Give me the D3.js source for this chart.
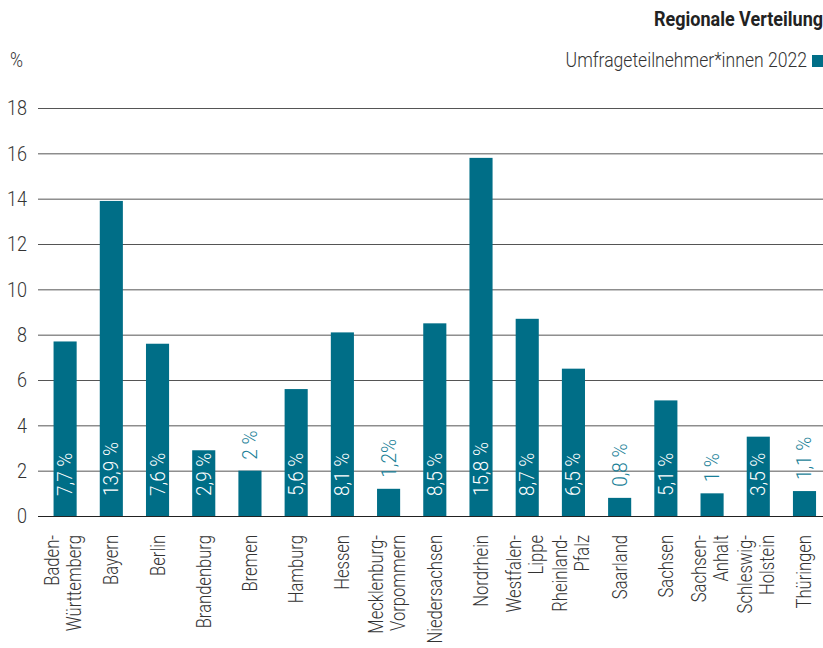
<!DOCTYPE html>
<html>
<head>
<meta charset="utf-8">
<script src="https://cdn.jsdelivr.net/npm/d3@7"></script>
<style>
  html, body { margin: 0; padding: 0; background: #fff; }
  svg { display: block; }
  text { font-family: Roboto, "Open Sans", sans-serif; }
</style>
</head>
<body>
<svg id="chart" width="823" height="648"></svg>
<script>
// Regional distribution of survey participants 2022 (percent)
const categories = [
  ["Baden-", "Württemberg"], ["Bayern"], ["Berlin"], ["Brandenburg"], ["Bremen"],
  ["Hamburg"], ["Hessen"], ["Mecklenburg-", "Vorpommern"], ["Niedersachsen"],
  ["Nordrhein"], ["Westfalen-", "Lippe"], ["Rheinland-", "Pfalz"], ["Saarland"],
  ["Sachsen"], ["Sachsen-", "Anhalt"], ["Schleswig-", "Holstein"], ["Thüringen"]
];
const values = [7.7, 13.9, 7.6, 2.9, 2, 5.6, 8.1, 1.2, 8.5, 15.8, 8.7, 6.5, 0.8, 5.1, 1, 3.5, 1.1];
const valueLabels = ["7,7 %", "13,9 %", "7,6 %", "2,9 %", "2 %", "5,6 %", "8,1 %", "1,2%", "8,5 %",
  "15,8 %", "8,7 %", "6,5 %", "0,8 %", "5,1 %", "1 %", "3,5 %", "1,1 %"];
const yTicks = [0, 2, 4, 6, 8, 10, 12, 14, 16, 18];
const title = "Regionale Verteilung";
const seriesName = "Umfrageteilnehmer*innen 2022";
const unit = "%";

const teal = "#006e87";
const textColor = "#333";
const svg = d3.select("#chart");
const W = 823;

const keys = categories.map(c => c.join(""));
const x = d3.scaleBand().domain(keys).range([42, 827.6]).paddingInner(0.5).paddingOuter(0.25);
const y = d3.scaleLinear().domain([0, 18]).range([516, 108]);

// narrow setting of the typeface: squeeze glyphs along the reading direction
const narrow = (sx) => `scale(${sx},1)`;

// title and legend
svg.append("text").attr("transform", `translate(823,26) ${narrow(0.9)}`).attr("text-anchor", "end")
  .attr("font-size", 20).attr("font-weight", 700).attr("fill", "#222").text(title);
svg.append("text").attr("transform", `translate(807,67) ${narrow(0.88)}`).attr("text-anchor", "end")
  .attr("font-size", 20).attr("font-weight", 300).attr("fill", textColor).text(seriesName);
svg.append("rect").attr("x", 812).attr("y", 55).attr("width", 12).attr("height", 12).attr("fill", teal);
svg.append("text").attr("transform", `translate(10,67) ${narrow(0.88)}`)
  .attr("font-size", 20).attr("font-weight", 300).attr("fill", textColor).text(unit);

// y axis: gridlines and tick labels
const yAxis = d3.axisLeft(y).tickValues(yTicks).tickSize(-(W - 38)).tickPadding(0).tickFormat(d3.format("d"));
const gy = svg.append("g").attr("transform", "translate(38,0)").call(yAxis);
gy.select(".domain").remove();
gy.selectAll(".tick line").attr("stroke", d => d === 0 ? "#222" : "#555").attr("stroke-width", 1);
gy.selectAll(".tick text")
  .attr("x", null)
  .attr("transform", `translate(-11,0) ${narrow(0.86)}`)
  .attr("font-size", 21).attr("font-weight", 300).attr("fill", textColor)
  .attr("font-family", "Roboto, sans-serif");

// bars
const data = keys.map((k, i) => ({ key: k, lines: categories[i], value: values[i], label: valueLabels[i] }));
svg.append("g").selectAll("rect").data(data).join("rect")
  .attr("x", d => x(d.key)).attr("y", d => y(d.value))
  .attr("width", x.bandwidth()).attr("height", d => y(0) - y(d.value))
  .attr("fill", teal);

// zero line drawn over the bars
svg.append("line").attr("x1", 38).attr("x2", W).attr("y1", y(0) + 0.5).attr("y2", y(0) + 0.5)
  .attr("stroke", "#222").attr("stroke-width", 1);

// value labels: inside the bar when there is room, otherwise above it
const inside = d => d.value >= 2.5;
svg.append("g").selectAll("text").data(data).join("text")
  .attr("transform", d => {
    const cx = x(d.key) + x.bandwidth() / 2;
    const cy = inside(d) ? y(0) - 20 : y(d.value) - 11;
    return `translate(${cx},${cy}) rotate(-90) ${narrow(0.95)}`;
  })
  .attr("dy", "0.35em").attr("font-size", 20).attr("font-weight", 300)
  .attr("fill", d => inside(d) ? "#fff" : "#1a7f98")
  .text(d => d.label);

// category labels, rotated, one or two lines each
const gx = svg.append("g");
data.forEach(d => {
  const cx = x(d.key) + x.bandwidth() / 2;
  const n = d.lines.length;
  const lh = 22;
  d.lines.forEach((line, j) => {
    const off = (j - (n - 1) / 2) * lh - (n > 1 ? 2 : 0);
    gx.append("text")
      .attr("transform", `translate(${cx + off},535) rotate(-90) ${narrow(0.83)}`)
      .attr("text-anchor", "end").attr("dy", "0.35em")
      .attr("font-size", 20).attr("font-weight", 300).attr("fill", textColor)
      .text(line);
  });
});
</script>
</body>
</html>
